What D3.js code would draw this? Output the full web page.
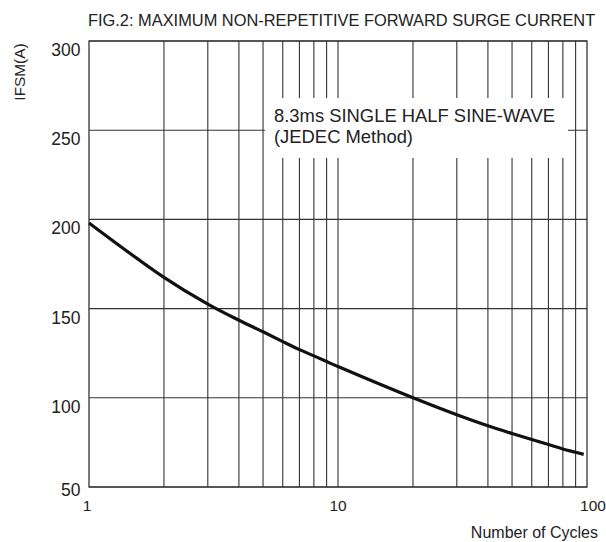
<!DOCTYPE html>
<html><head><meta charset="utf-8">
<script src="https://cdn.jsdelivr.net/npm/d3@7"></script>
<style>body{margin:0;background:#fff;} text{font-family:"Liberation Sans",Arial,sans-serif;fill:#222;}</style>
</head><body>
<svg id="c" width="606" height="542"></svg>
<script>
const cycles = [1,2,3,4,5,6,7,8,9,10,20,30,40,50,60,70,80,90,97];
const ifsm = [198,167.5,152.5,143.5,137,131.5,127,123.5,120.3,117.5,100,90.5,84.3,80,76.6,73.8,71.3,69.5,68.3];
const yTicks = [50,100,150,200,250,300];
const xTickLabels = [1,10,100];
const xGrid = [2,3,4,5,6,7,8,9,10,20,30,40,50,60,70,80,90];
const title = "FIG.2: MAXIMUM NON-REPETITIVE FORWARD SURGE CURRENT";
const note = ["8.3ms SINGLE HALF SINE-WAVE","(JEDEC Method)"];

const L=89,R=587,T=41,B=487;
const svg=d3.select("#c");
const x=d3.scaleLog().domain([1,100]).range([L,R]);
const y=d3.scaleLinear().domain([50,300]).range([B,T]);
const g=svg.append("g");
const gc="#333";
g.selectAll(".vg").data(xGrid).join("line").attr("x1",d=>x(d)).attr("x2",d=>x(d)).attr("y1",T).attr("y2",B).attr("stroke",gc).attr("stroke-width",1.1);
g.selectAll(".hg").data(yTicks).join("line").attr("x1",L).attr("x2",R).attr("y1",d=>y(d)).attr("y2",d=>y(d)).attr("stroke",gc).attr("stroke-width",1.1);
g.append("rect").attr("x",L).attr("y",T).attr("width",R-L).attr("height",B-T).attr("fill","none").attr("stroke",gc).attr("stroke-width",1.3);

// annotation box
svg.append("rect").attr("x",265).attr("y",98).attr("width",303).attr("height",60).attr("fill","#fff");
svg.selectAll(".note").data(note).join("text").attr("x",274).attr("y",(d,i)=>122+i*21).attr("font-size",18.4).text(d=>d);

// curve
const pts=cycles.map((c,i)=>[x(c),y(ifsm[i])]);
svg.append("path").attr("d",d3.line().curve(d3.curveCatmullRom.alpha(0.5))(pts)).attr("fill","none").attr("stroke","#111").attr("stroke-width",3.2);

// y tick labels
svg.selectAll(".yl").data(yTicks).join("text").attr("x",80.5).attr("y",d=>d===50?y(d)+9:y(d)+15).attr("text-anchor","end").attr("font-size",17.5).text(d=>d);
svg.selectAll(".xl").data(xTickLabels).join("text").attr("x",d=>x(d)+(d===100?6:(d===1?-2:0))).attr("y",511).attr("text-anchor","middle").attr("font-size",15.5).text(d=>d);

svg.append("text").attr("x",88).attr("y",26).attr("text-anchor","start").attr("font-size",16.4).text(title);
svg.append("text").attr("transform","translate(25,72) rotate(-90)").attr("text-anchor","middle").attr("font-size",15.4).text("IFSM(A)");
svg.append("text").attr("x",598).attr("y",538).attr("text-anchor","end").attr("font-size",16).text("Number of Cycles");
</script>
</body></html>
